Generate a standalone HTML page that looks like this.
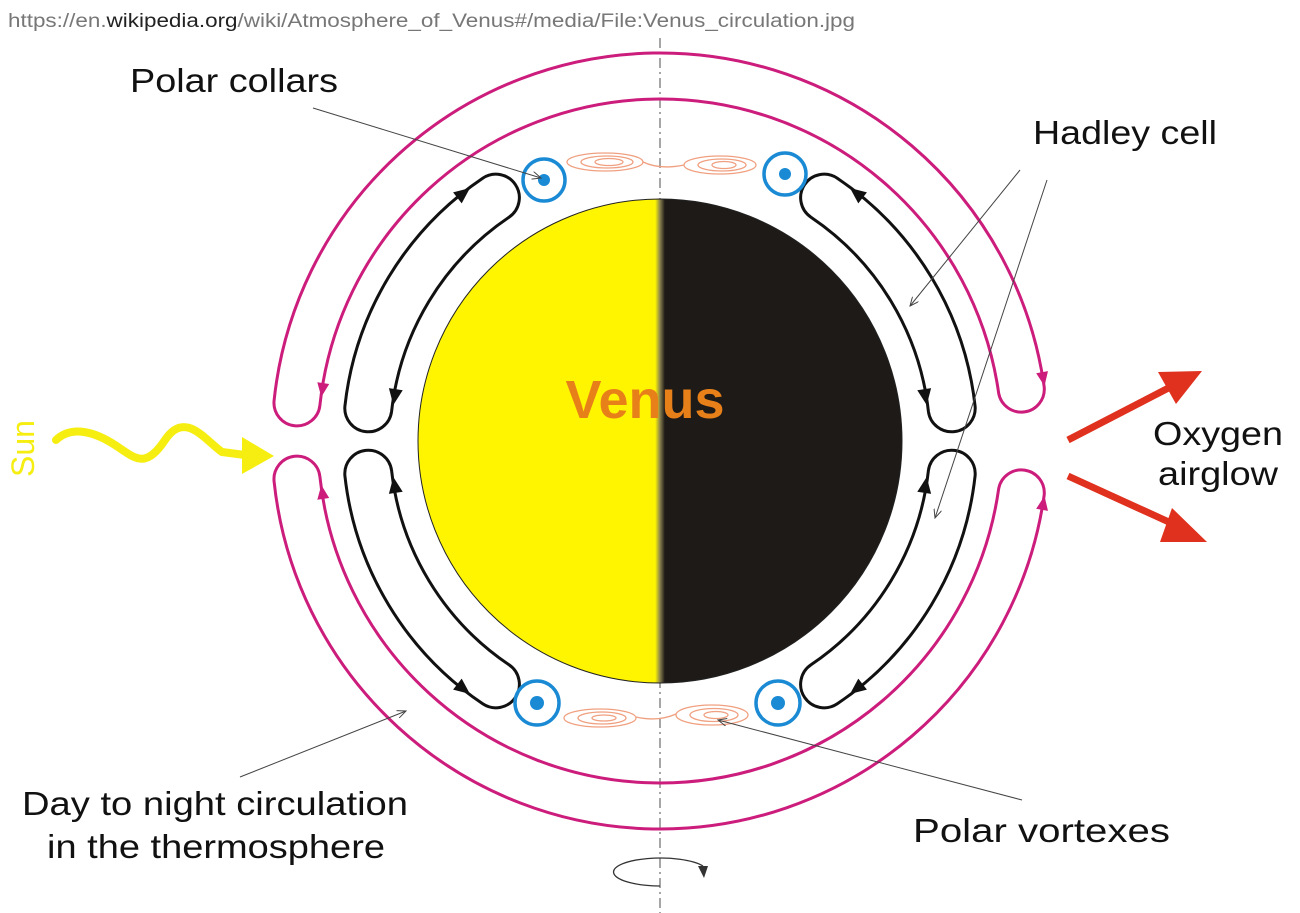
<!DOCTYPE html>
<html><head><meta charset="utf-8"><style>
html,body{margin:0;padding:0;background:#fff;}
svg{display:block;}
text{font-family:"Liberation Sans",Arial,sans-serif;}
</style></head><body>
<svg width="1300" height="913" viewBox="0 0 1300 913" xmlns="http://www.w3.org/2000/svg">
<defs>
<linearGradient id="pl" x1="0" x2="1" y1="0" y2="0">
<stop offset="0" stop-color="#fff500"/><stop offset="0.49" stop-color="#fff500"/>
<stop offset="0.5" stop-color="#8a8250"/><stop offset="0.51" stop-color="#1e1a17"/><stop offset="1" stop-color="#1e1a17"/>
</linearGradient>
<marker id="la" markerWidth="10" markerHeight="8" refX="9" refY="4" orient="auto" markerUnits="userSpaceOnUse">
<path d="M0,0 L9,4 L0,8" fill="none" stroke="#444" stroke-width="1"/></marker>
</defs>

<text x="8" y="27" font-size="19" fill="#777" textLength="847" lengthAdjust="spacingAndGlyphs">https://en.<tspan fill="#222">wikipedia.org</tspan>/wiki/Atmosphere_of_Venus#/media/File:Venus_circulation.jpg</text>

<!-- axis -->
<line x1="660" y1="38" x2="660" y2="913" stroke="#888" stroke-width="1.5" stroke-dasharray="10,4,2,4"/>

<!-- planet -->
<circle cx="660" cy="441" r="242" fill="url(#pl)" stroke="#222" stroke-width="1"/>
<text x="645" y="418" font-size="54" font-weight="bold" fill="#e8801a" text-anchor="middle">Venus</text>

<!-- magenta tubes -->
<g fill="none" stroke="#cc1c7c" stroke-width="3">
<path d="M274.1 400.4 A388 388 0 0 1 1044.2 387 A23 23 0 0 1 998.7 393.4 A342 342 0 0 0 319.9 405.3 A23 23 0 0 1 274.1 400.4Z"/>
<path d="M274.1 481.6 A388 388 0 0 0 1044.2 495 A23 23 0 0 0 998.7 488.6 A342 342 0 0 1 319.9 476.7 A23 23 0 0 0 274.1 481.6Z"/>
</g>
<g fill="#cc1c7c">
<polygon points="0,0 -14,-6 -14,6" transform="translate(321.3,397) rotate(98)"/>
<polygon points="0,0 -14,-6 -14,6" transform="translate(1044.5,386) rotate(80)"/>
<polygon points="0,0 -14,-6 -14,6" transform="translate(321.3,485) rotate(-98)"/>
<polygon points="0,0 -14,-6 -14,6" transform="translate(1044.5,496) rotate(-80)"/>
</g>

<!-- black cells -->
<g fill="none" stroke="#111" stroke-width="3">
<path d="M344.9 406.2 A317 317 0 0 1 482.7 178.2 A23.5 23.5 0 0 1 509 217.2 A270 270 0 0 0 391.6 411.4 A23.5 23.5 0 0 1 344.9 406.2Z"/>
<path d="M975.1 406.2 A317 317 0 0 0 837.3 178.2 A23.5 23.5 0 0 0 811 217.2 A270 270 0 0 1 928.4 411.4 A23.5 23.5 0 0 0 975.1 406.2Z"/>
<path d="M344.9 475.8 A317 317 0 0 0 482.7 703.8 A23.5 23.5 0 0 0 509 664.8 A270 270 0 0 1 391.6 470.6 A23.5 23.5 0 0 0 344.9 475.8Z"/>
<path d="M975.1 475.8 A317 317 0 0 1 837.3 703.8 A23.5 23.5 0 0 1 811 664.8 A270 270 0 0 0 928.4 470.6 A23.5 23.5 0 0 1 975.1 475.8Z"/>
</g>
<g fill="#111">
<polygon points="0,0 -16,-7 -16,7" transform="translate(470,188) rotate(-38)"/>
<polygon points="0,0 -16,-7 -16,7" transform="translate(393.3,405) rotate(99)"/>
<polygon points="0,0 -16,-7 -16,7" transform="translate(850,188) rotate(-142)"/>
<polygon points="0,0 -16,-7 -16,7" transform="translate(926.7,405) rotate(81)"/>
<polygon points="0,0 -16,-7 -16,7" transform="translate(393.3,477) rotate(-99)"/>
<polygon points="0,0 -16,-7 -16,7" transform="translate(470,694) rotate(38)"/>
<polygon points="0,0 -16,-7 -16,7" transform="translate(926.7,477) rotate(-81)"/>
<polygon points="0,0 -16,-7 -16,7" transform="translate(850,694) rotate(142)"/>
</g>

<!-- polar collars -->
<g fill="none" stroke="#1a8ad4" stroke-width="3.5">
<circle cx="544" cy="180" r="21"/><circle cx="785" cy="174" r="21"/>
<circle cx="537" cy="703" r="22"/><circle cx="778" cy="703" r="22"/>
</g>
<g fill="#1a8ad4">
<circle cx="544" cy="180" r="6"/><circle cx="785" cy="174" r="6"/>
<circle cx="537" cy="703" r="7"/><circle cx="778" cy="703" r="7"/>
</g>

<!-- vortexes -->
<g fill="none" stroke="#f0a080" stroke-width="1.3">
<ellipse cx="605" cy="162" rx="38" ry="9"/><ellipse cx="607" cy="162" rx="26" ry="6"/><ellipse cx="609" cy="162" rx="14" ry="3.5"/>
<ellipse cx="720" cy="165" rx="36" ry="9"/><ellipse cx="722" cy="165" rx="24" ry="6"/><ellipse cx="724" cy="165" rx="12" ry="3.5"/>
<path d="M643 162 Q 660 170 684 165"/>
<ellipse cx="600" cy="718" rx="36" ry="9"/><ellipse cx="602" cy="718" rx="24" ry="6"/><ellipse cx="604" cy="718" rx="12" ry="3"/>
<ellipse cx="712" cy="715" rx="36" ry="10"/><ellipse cx="714" cy="715" rx="24" ry="6.5"/><ellipse cx="716" cy="715" rx="12" ry="3.5"/>
<path d="M636 717 Q 658 722 676 714"/>
</g>

<!-- leader lines -->
<g stroke="#444" stroke-width="1" fill="none" marker-end="url(#la)">
<line x1="313" y1="108" x2="541" y2="178"/>
<line x1="1020" y1="170" x2="910" y2="306"/>
<line x1="1047" y1="180" x2="935" y2="518"/>
<line x1="240" y1="777" x2="406" y2="711"/>
<line x1="1022" y1="800" x2="718" y2="720"/>
</g>

<!-- labels -->
<g font-size="33" fill="#111">
<text x="130" y="92" textLength="208" lengthAdjust="spacingAndGlyphs">Polar collars</text>
<text x="1033" y="144" textLength="184" lengthAdjust="spacingAndGlyphs">Hadley cell</text>
<text x="1153" y="445" textLength="130" lengthAdjust="spacingAndGlyphs">Oxygen</text>
<text x="1158" y="485" textLength="120" lengthAdjust="spacingAndGlyphs">airglow</text>
<text x="22" y="815" textLength="386" lengthAdjust="spacingAndGlyphs">Day to night circulation</text>
<text x="47" y="858" textLength="338" lengthAdjust="spacingAndGlyphs">in the thermosphere</text>
<text x="913" y="842" textLength="257" lengthAdjust="spacingAndGlyphs">Polar vortexes</text>
</g>
<text x="0" y="0" font-size="32" fill="#f5ee10" transform="translate(34,477) rotate(-90)">Sun</text>

<!-- sun arrow -->
<path d="M56 440 C 72 425, 95 432, 115 445 S 145 470 165 440 S 205 440 222 452 L 245 455" fill="none" stroke="#f5ee10" stroke-width="8" stroke-linecap="round"/>
<polygon points="242,437 274,456 242,474" fill="#f5ee10"/>

<!-- red arrows -->
<g stroke="#e0301e" stroke-width="7" fill="#e0301e">
<line x1="1068" y1="440" x2="1180" y2="382"/>
<line x1="1068" y1="476" x2="1182" y2="528"/>
</g>
<polygon points="1202,371 1158,372 1176,404" fill="#e0301e"/>
<polygon points="1207,542 1172,508 1160,542" fill="#e0301e"/>

<!-- rotation -->
<path d="M660 886 A47 14 0 1 1 703 866" fill="none" stroke="#333" stroke-width="1.3"/>
<polygon points="698,866 708,866 704,878" fill="#333"/>
</svg>
</body></html>
